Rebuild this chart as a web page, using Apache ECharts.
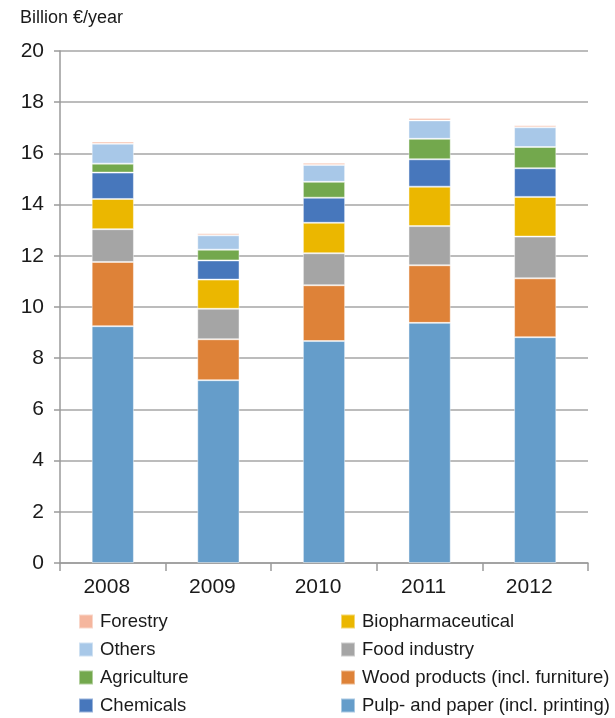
<!DOCTYPE html>
<html>
<head>
<meta charset="utf-8">
<script src="https://cdn.jsdelivr.net/npm/echarts@6/dist/echarts.min.js"></script>
<style>
  html, body { margin: 0; padding: 0; background: #fff; }
  #chart { width: 615px; height: 718px; }
</style>
</head>
<body>
<div id="chart"></div>
<script>
// Years on the category axis
const years = ['2008', '2009', '2010', '2011', '2012'];

// Value added per sector, billion €/year (stacked bottom to top)
const pulpPaper       = [9.25, 7.14, 8.67, 9.38, 8.82];
const woodProducts    = [2.51, 1.60, 2.18, 2.25, 2.30];
const foodIndustry    = [1.28, 1.19, 1.25, 1.53, 1.63];
const biopharma       = [1.18, 1.14, 1.19, 1.54, 1.55];
const chemicals       = [1.03, 0.75, 0.98, 1.07, 1.12];
const agriculture     = [0.35, 0.42, 0.62, 0.80, 0.83];
const others          = [0.78, 0.56, 0.66, 0.72, 0.77];
const forestry        = [0.08, 0.08, 0.08, 0.09, 0.08];

const yTicks = [0, 2, 4, 6, 8, 10, 12, 14, 16, 18, 20];

const seriesDefs = [
  { name: 'Pulp- and paper (incl. printing)', data: pulpPaper,    color: '#659DCA' },
  { name: 'Wood products (incl. furniture)',  data: woodProducts, color: '#DE8238' },
  { name: 'Food industry',                    data: foodIndustry, color: '#A5A5A5' },
  { name: 'Biopharmaceutical',                data: biopharma,    color: '#EBB700' },
  { name: 'Chemicals',                        data: chemicals,    color: '#4777BC' },
  { name: 'Agriculture',                      data: agriculture,  color: '#73A84D' },
  { name: 'Others',                           data: others,       color: '#A8C8E8' },
  { name: 'Forestry',                         data: forestry,     color: '#F5B69E' }
];

const font = 'Liberation Sans, Arial, sans-serif';
const chart = echarts.init(document.getElementById('chart'), null, { renderer: 'canvas' });

// Two legend columns; a narrow width forces one item per row
const legendCommon = {
  orient: 'horizontal',
  width: 10,
  icon: 'rect',
  itemWidth: 14,
  itemHeight: 14,
  itemGap: 9,
  textStyle: { fontFamily: font, fontSize: 18.5, lineHeight: 18, color: '#1a1a1a', padding: [0, 0, 0, 2] },
  selectedMode: false,
  padding: 0
};

chart.setOption({
  animation: false,
  backgroundColor: '#fff',
  color: seriesDefs.map(s => s.color),
  title: {
    text: 'Billion €/year',
    left: 20,
    top: 9,
    padding: 0,
    textStyle: { fontFamily: font, fontSize: 18, fontWeight: 'normal', color: '#1a1a1a' }
  },
  grid: { left: 60, right: 27, top: 51, bottom: 155 },
  legend: [
    Object.assign({}, legendCommon, {
      left: 78, top: 612,
      data: ['Forestry', 'Others', 'Agriculture', 'Chemicals']
    }),
    Object.assign({}, legendCommon, {
      left: 340, top: 612,
      data: ['Biopharmaceutical', 'Food industry', 'Wood products (incl. furniture)', 'Pulp- and paper (incl. printing)']
    })
  ],
  xAxis: {
    type: 'category',
    data: years,
    axisLine: { lineStyle: { color: '#9a9a9a', width: 1.5 } },
    axisTick: { show: true, length: 8, alignWithLabel: false, lineStyle: { color: '#9a9a9a', width: 1.5 } },
    axisLabel: { fontFamily: font, fontSize: 21, color: '#1a1a1a', margin: 14, padding: [0, 12, 0, 0] }
  },
  yAxis: {
    type: 'value',
    min: yTicks[0],
    max: yTicks[yTicks.length - 1],
    interval: 2,
    axisLine: { show: true, lineStyle: { color: '#9a9a9a', width: 1.5 } },
    axisTick: { show: true, length: 6, lineStyle: { color: '#9a9a9a', width: 1.5 } },
    axisLabel: { fontFamily: font, fontSize: 21, color: '#1a1a1a', margin: 16 },
    splitLine: { show: true, lineStyle: { color: '#a6a6a6', width: 1.5 } }
  },
  series: seriesDefs.map(s => ({
    name: s.name,
    type: 'bar',
    stack: 'total',
    data: s.data,
    barWidth: '40%',
    itemStyle: { color: s.color, borderColor: 'rgba(255,255,255,0.45)', borderWidth: 1 },
    emphasis: { disabled: true }
  }))
});
</script>
</body>
</html>
